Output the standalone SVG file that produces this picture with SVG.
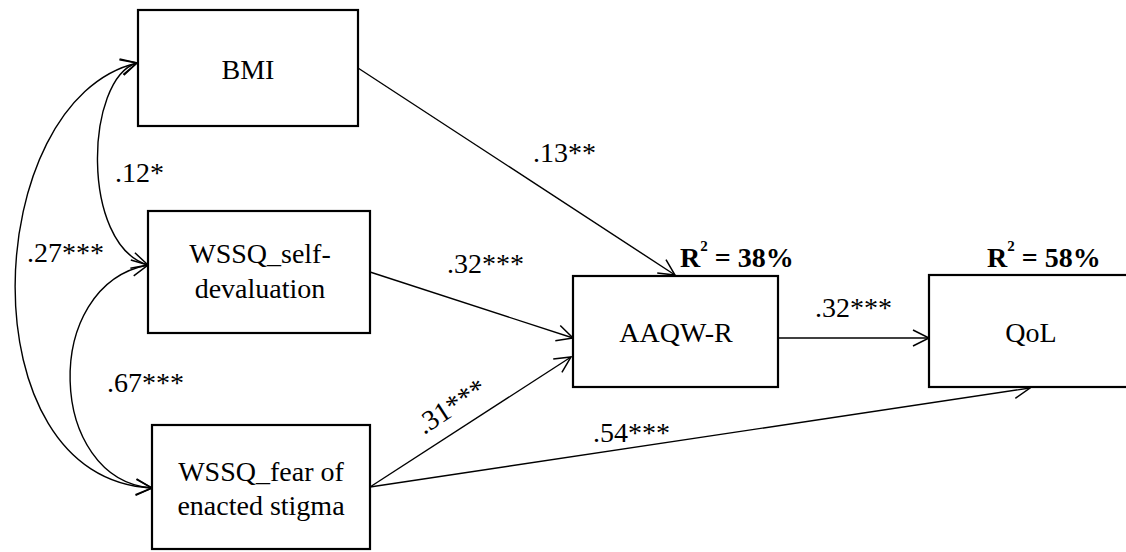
<svg xmlns="http://www.w3.org/2000/svg" width="1126" height="552" viewBox="0 0 1126 552">
  <style>
    .box { fill: #fff; stroke: #000; stroke-width: 2.2; }
    .lbl { font-family: 'Liberation Serif', 'Times New Roman', serif; font-size: 28px; fill: #000; }
    .node-text { font-family: 'Liberation Serif', 'Times New Roman', serif; font-size: 28px; fill: #000; text-anchor: middle; }
    .r2 { font-family: 'Liberation Serif', 'Times New Roman', serif; font-size: 28px; font-weight: bold; fill: #000; }
    .edge { fill: none; stroke: #000; stroke-width: 1.4; }
  </style>
  <defs>
    <marker id="arrow" viewBox="-18 -10 20 20" refX="0" refY="0" markerWidth="20" markerHeight="20" markerUnits="userSpaceOnUse" orient="auto-start-reverse">
      <path d="M -16 -8 L 0 0 L -16 8" fill="none" stroke="#000" stroke-width="1.5"/>
    </marker>
  </defs>
  <rect width="1126" height="552" fill="#fff"/>

  <!-- connectors -->
  <g id="connectors">
    <!-- covariances (double-headed) -->
    <path class="edge" d="M 137 63 C 85 78, 80 245, 148 265" marker-start="url(#arrow)" marker-end="url(#arrow)"/>
    <path class="edge" d="M 137 63 C -20 100, -36 480, 152 488" marker-start="url(#arrow)" marker-end="url(#arrow)"/>
    <path class="edge" d="M 148 265 C 40 285, 47 480, 152 488" marker-start="url(#arrow)" marker-end="url(#arrow)"/>
    <!-- regression paths -->
    <line class="edge" x1="358" y1="68" x2="675" y2="275" marker-end="url(#arrow)"/>
    <line class="edge" x1="370" y1="272" x2="573" y2="338" marker-end="url(#arrow)"/>
    <line class="edge" x1="370" y1="487" x2="571" y2="357" marker-end="url(#arrow)"/>
    <line class="edge" x1="370" y1="487" x2="1030" y2="388" marker-end="url(#arrow)"/>
    <line class="edge" x1="779" y1="338" x2="929" y2="338" marker-end="url(#arrow)"/>
  </g>

  <!-- path coefficients -->
  <g id="labels">
    <text class="lbl" x="115" y="182">.12*</text>
    <text class="lbl" x="27" y="262">.27***</text>
    <text class="lbl" x="107" y="392">.67***</text>
    <text class="lbl" x="533" y="162">.13**</text>
    <text class="lbl" x="447" y="273">.32***</text>
    <text class="lbl" x="815" y="317">.32***</text>
    <text class="lbl" x="593" y="442">.54***</text>
    <text class="lbl" x="0" y="0" transform="translate(424 435) rotate(-33)">.31***</text>
  </g>

  <g id="node-bmi">
    <rect class="box" x="138" y="10" width="220" height="116"/>
    <text class="node-text" x="248" y="79">BMI</text>
  </g>

  <g id="node-self-devaluation">
    <rect class="box" x="148" y="211" width="222" height="122"/>
    <text class="node-text" x="260" y="263">WSSQ_self-</text>
    <text class="node-text" x="260" y="298">devaluation</text>
  </g>

  <g id="node-fear">
    <rect class="box" x="152" y="425" width="218" height="124"/>
    <text class="node-text" x="261" y="481">WSSQ_fear of</text>
    <text class="node-text" x="261" y="515">enacted stigma</text>
  </g>

  <g id="node-aaqw">
    <rect class="box" x="573" y="276" width="205" height="111"/>
    <text class="node-text" x="676" y="342">AAQW-R</text>
    <text class="r2" x="680" y="267">R<tspan font-size="15" dy="-16">2</tspan><tspan dy="16"> = 38%</tspan></text>
  </g>

  <g id="node-qol">
    <rect class="box" x="929" y="275" width="200" height="112"/>
    <text class="node-text" x="1031" y="342">QoL</text>
    <text class="r2" x="987" y="267">R<tspan font-size="15" dy="-16">2</tspan><tspan dy="16"> = 58%</tspan></text>
  </g>
</svg>
